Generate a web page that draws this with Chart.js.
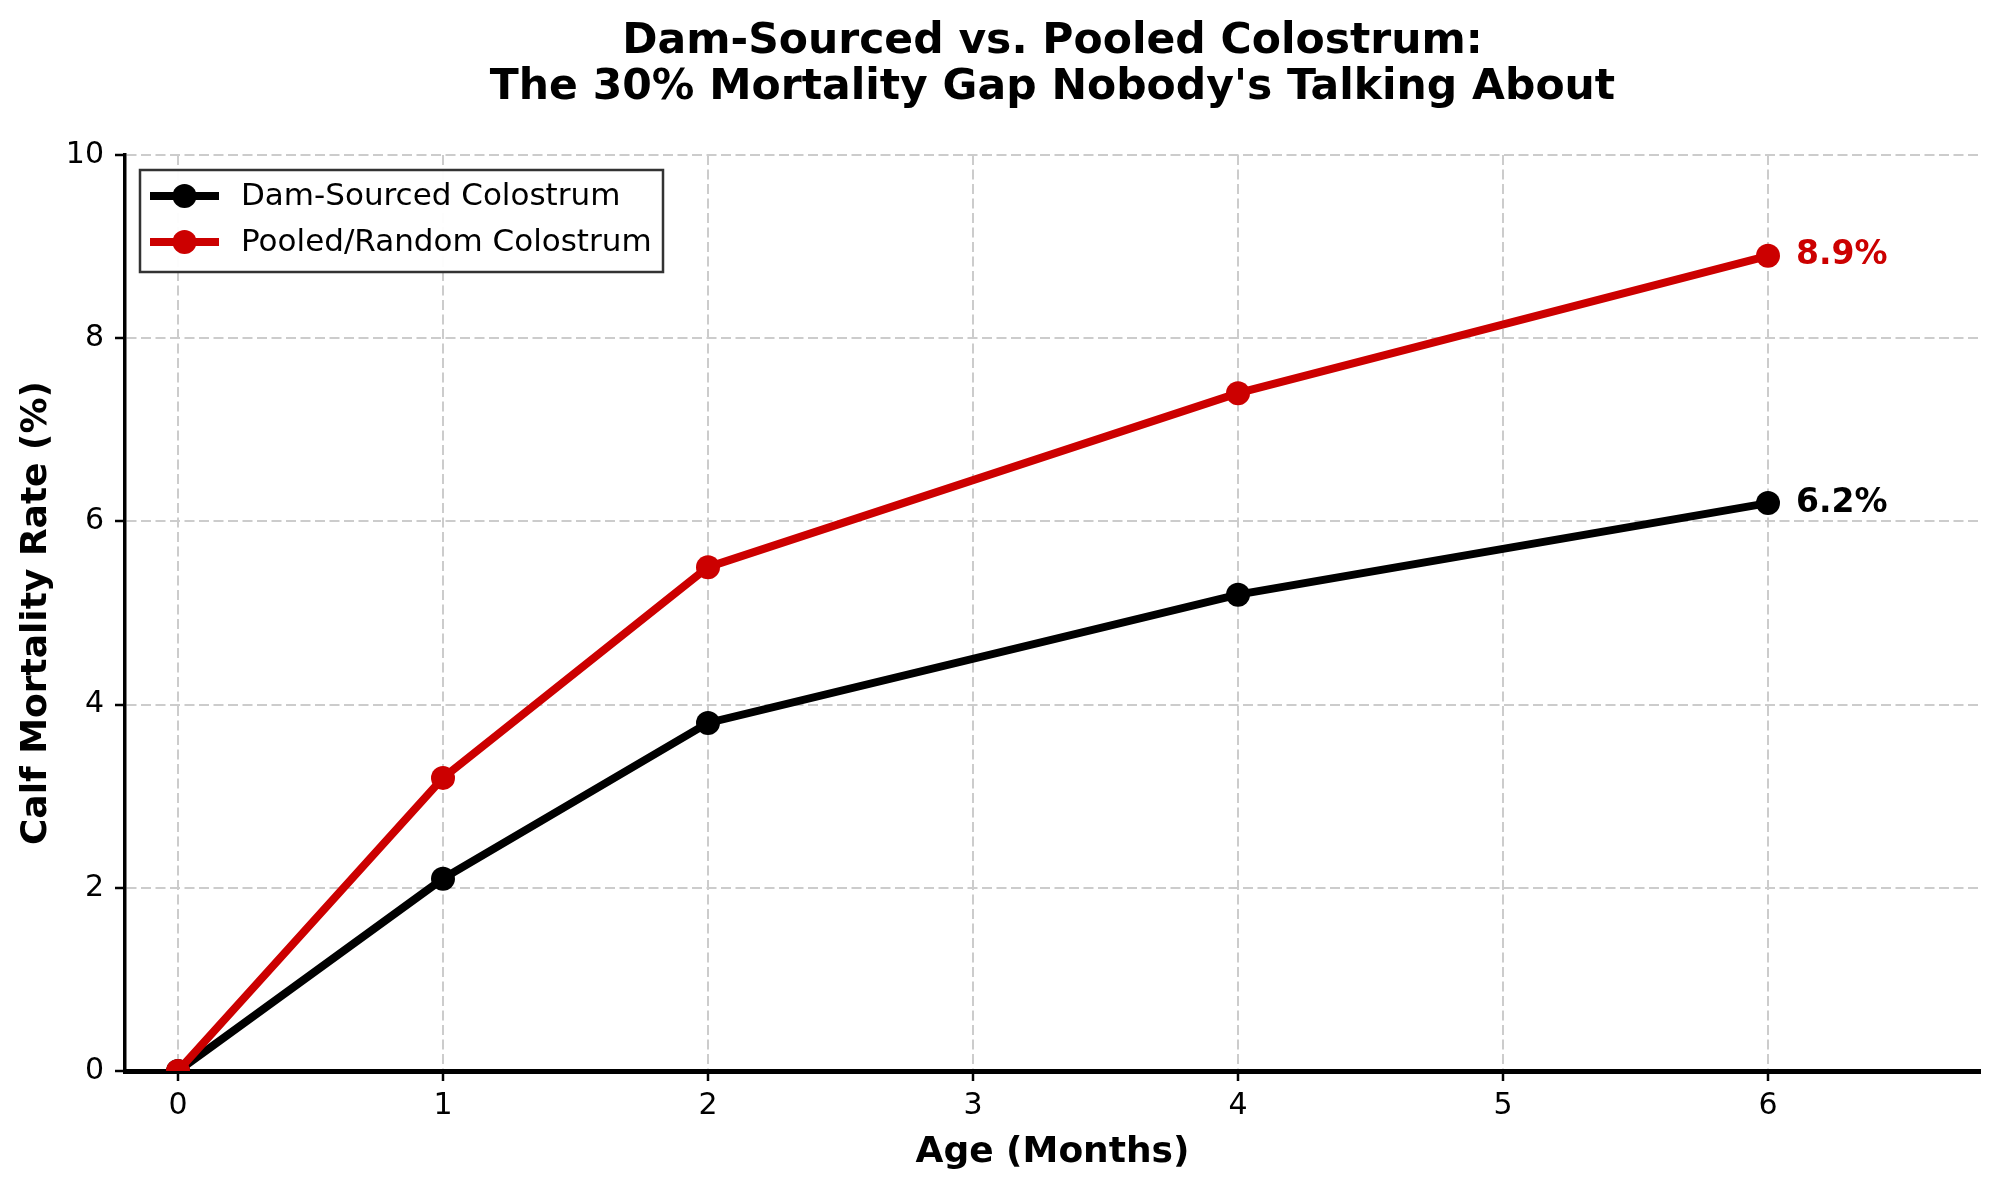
<!DOCTYPE html>
<html>
<head>
<meta charset="utf-8">
<script src="https://cdn.jsdelivr.net/npm/chart.js@4/dist/chart.umd.min.js"></script>
<style>
  html, body { margin: 0; padding: 0; background: #ffffff; }
  canvas { display: block; }
</style>
</head>
<body>
<canvas id="grafico" width="2000" height="1188" style="width:2000px;height:1188px"></canvas>
<script>
// datos
const edadMeses = [0, 1, 2, 4, 6];
const calostroMadre = [0, 2.1, 3.8, 5.2, 6.2];
const calostroMezcla = [0, 3.2, 5.5, 7.4, 8.9];
const ticksX = [0, 1, 2, 3, 4, 5, 6];
const ticksY = [0, 2, 4, 6, 8, 10];
const nombresSeries = ["Dam-Sourced Colostrum", "Pooled/Random Colostrum"];
const coloresSeries = ["#000000", "#cc0000"];
const titulo = ["Dam-Sourced vs. Pooled Colostrum:", "The 30% Mortality Gap Nobody's Talking About"];

const FUENTE = "'DejaVu Sans', sans-serif";

// titulo centrado sobre el area del grafico
const pluginTitulo = {
  id: "tituloCentrado",
  afterDraw(chart) {
    const { ctx, chartArea } = chart;
    const cx = (chartArea.left + chartArea.right) / 2;
    ctx.save();
    ctx.font = `bold 42.5px ${FUENTE}`;
    ctx.fillStyle = "#000";
    ctx.textAlign = "center";
    ctx.textBaseline = "alphabetic";
    titulo.forEach((linea, i) => ctx.fillText(linea, cx, 53 + i * 46));
    ctx.restore();
  },
};

// etiqueta con el ultimo valor de cada serie
const pluginEtiquetas = {
  id: "etiquetasFinales",
  afterDatasetsDraw(chart) {
    const { ctx } = chart;
    ctx.save();
    ctx.font = `bold 33px ${FUENTE}`;
    ctx.textAlign = "left";
    ctx.textBaseline = "middle";
    chart.data.datasets.forEach((ds, i) => {
      const meta = chart.getDatasetMeta(i);
      const ultimo = meta.data[meta.data.length - 1];
      const valor = ds.data[ds.data.length - 1].y;
      ctx.fillStyle = ds.borderColor;
      ctx.fillText(`${valor.toFixed(1)}%`, ultimo.x + 28, ultimo.y);
    });
    ctx.restore();
  },
};

// leyenda estilo matplotlib (linea con marcador) dentro del area
const pluginLeyenda = {
  id: "leyendaInterna",
  afterDraw(chart) {
    const { ctx, chartArea } = chart;
    const x0 = chartArea.left + 15;
    const y0 = chartArea.top + 15;
    ctx.save();
    ctx.fillStyle = "rgba(255,255,255,0.95)";
    ctx.fillRect(x0, y0, 523, 102);
    ctx.strokeStyle = "#333333";
    ctx.lineWidth = 2.5;
    ctx.strokeRect(x0, y0, 523, 102);
    ctx.font = `31px ${FUENTE}`;
    ctx.textBaseline = "middle";
    nombresSeries.forEach((nombre, i) => {
      const yy = y0 + 26 + i * 46;
      ctx.strokeStyle = coloresSeries[i];
      ctx.lineWidth = 8;
      ctx.beginPath();
      ctx.moveTo(x0 + 10, yy);
      ctx.lineTo(x0 + 79, yy);
      ctx.stroke();
      ctx.fillStyle = coloresSeries[i];
      ctx.beginPath();
      ctx.arc(x0 + 44.5, yy, 12, 0, Math.PI * 2);
      ctx.fill();
      ctx.fillStyle = "#000";
      ctx.fillText(nombre, x0 + 101, yy + 1);
    });
    ctx.restore();
  },
};

const ctxGrafico = document.getElementById("grafico");
new Chart(ctxGrafico, {
  type: "line",
  data: {
    datasets: [
      {
        label: nombresSeries[0],
        data: edadMeses.map((m, i) => ({ x: m, y: calostroMadre[i] })),
        borderColor: coloresSeries[0],
        backgroundColor: coloresSeries[0],
        borderWidth: 8,
        pointRadius: 12,
        pointBorderWidth: 0,
        pointBackgroundColor: coloresSeries[0],
        tension: 0,
        clip: 0,
        order: 1,
      },
      {
        label: nombresSeries[1],
        data: edadMeses.map((m, i) => ({ x: m, y: calostroMezcla[i] })),
        borderColor: coloresSeries[1],
        backgroundColor: coloresSeries[1],
        borderWidth: 8,
        pointRadius: 12,
        pointBorderWidth: 0,
        pointBackgroundColor: coloresSeries[1],
        tension: 0,
        clip: 0,
        order: 0,
      },
    ],
  },
  options: {
    responsive: false,
    devicePixelRatio: 1,
    animation: false,
    events: [],
    layout: { padding: { top: 155, right: 20, bottom: 0, left: 0 } },
    plugins: {
      legend: { display: false },
      title: { display: false },
      tooltip: { enabled: false },
    },
    scales: {
      x: {
        type: "linear",
        min: -0.2,
        max: 6.8,
        afterBuildTicks: (s) => { s.ticks = ticksX.map((v) => ({ value: v })); },
        afterFit: (s) => { s.height = 117; },
        grid: {
          color: "#cccccc",
          lineWidth: 2,
          tickColor: "#000",
          tickWidth: 2.5,
          tickLength: 10,
        },
        border: { display: true, color: "#000", width: 5, dash: [10, 4.5] },
        ticks: {
          color: "#000",
          padding: 7,
          font: { family: FUENTE, size: 30 },
          maxRotation: 0,
        },
        title: {
          display: true,
          text: "Age (Months)",
          color: "#000",
          font: { family: FUENTE, size: 36, weight: "bold" },
          padding: { top: 0, bottom: 14 },
        },
      },
      y: {
        type: "linear",
        min: 0,
        max: 10,
        afterBuildTicks: (s) => { s.ticks = ticksY.map((v) => ({ value: v })); },
        afterFit: (s) => { s.width = 125; },
        grid: {
          color: "#cccccc",
          lineWidth: 2,
          tickColor: "#000",
          tickWidth: 2.5,
          tickLength: 10,
        },
        border: { display: true, color: "#000", width: 3.5, dash: [10, 4.5] },
        ticks: {
          color: "#000",
          padding: 11,
          font: { family: FUENTE, size: 30 },
        },
        title: {
          display: true,
          text: "Calf Mortality Rate (%)",
          color: "#000",
          font: { family: FUENTE, size: 36, weight: "bold" },
          padding: { top: 15, bottom: 0 },
        },
      },
    },
  },
  plugins: [pluginTitulo, pluginEtiquetas, pluginLeyenda],
});
</script>
</body>
</html>
